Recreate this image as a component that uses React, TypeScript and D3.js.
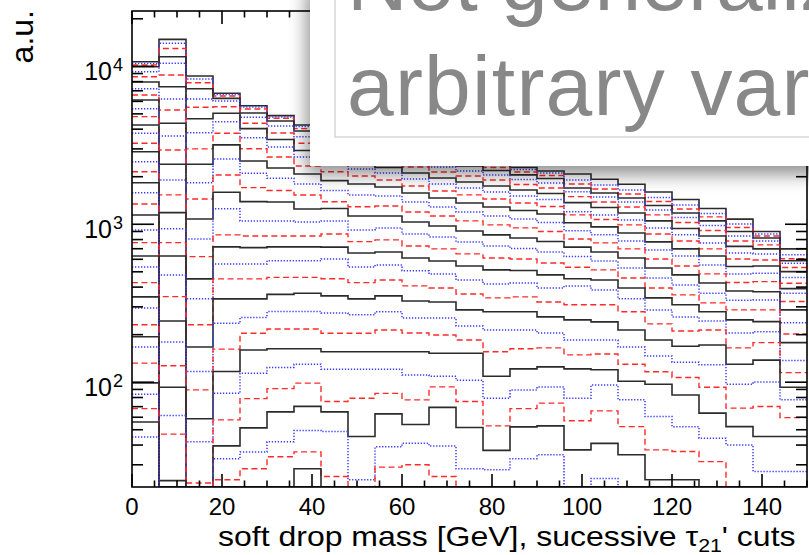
import React from 'react';
import * as d3 from 'd3';

// Soft drop mass histograms (6 GeV bins, 0-150 GeV) for successive tau21' cuts.
// Each array holds one mass bin; entry i is the count after the i-th cut level
// (loosest first). Missing entries are empty bins.
const binWidth = 6;
const massMax = 150;
const nLevels = 38;

const bin00 = [10690, 10410, 10190, 9940, 9240, 8590, 7950, 7210, 6580, 6120, 5390, 4800, 4250, 3770, 3260, 2880, 2490, 2150, 1830, 1585, 1345, 1145, 920, 765, 630, 536, 427, 347, 295, 231, 194, 167, 132, 99, 84, 68, 56, 45];
const bin06 = [14810, 13980, 12980, 11500, 10440, 8810, 7430, 6220, 5290, 4360, 3620, 2950, 2400, 1907, 1535, 1185, 937, 765, 630, 478, 348, 244, 180, 127, 93, 61.5, 46.9, 23.8];
const bin12 = [8680, 8320, 7870, 7210, 6210, 5510, 4660, 3800, 3000, 2400, 1830, 1445, 1080, 807, 624, 451, 337, 231, 167, 117, 89.4, 58.7, 42, 23];
const bin18 = [6750, 6630, 6490, 6270, 6030, 5550, 5040, 4460, 3770, 3180, 2590, 2050, 1595, 1255, 856, 719, 560, 451, 337, 236, 162, 117, 85, 57.7, 39.5, 32.7, 24.1];
const bin24 = [5630, 5530, 5370, 5060, 4755, 4360, 4030, 3530, 3005, 2516, 2100, 1705, 1390, 1050, 843, 711, 560, 451, 337, 257, 204, 160, 114, 78.7, 51.4, 36.2, 28.3];
const bin30 = [4870, 4777, 4690, 4506, 4190, 3780, 3440, 3085, 2667, 2270, 1955, 1637, 1384, 1050, 843, 719, 588, 461, 360, 280, 217, 163, 124, 91, 64.9, 42, 33.7];
const bin36 = [4250, 4156, 4030, 3895, 3585, 3255, 2932, 2667, 2340, 2081, 1798, 1533, 1250, 1034, 843, 719, 588, 461, 366, 280, 217, 163, 130, 98.6, 70.3, 49.5, 36.2, 28.3];
const bin42 = [3895, 3780, 3675, 3517, 3269, 2996, 2746, 2443, 2152, 1888, 1633, 1389, 1257, 1050, 868, 716, 603, 452, 352, 274, 204, 156, 121, 75.4, 64.9, 48.7, 25.3];
const bin48 = [3569, 3440, 3317, 3176, 2953, 2705, 2479, 2240, 2022, 1798, 1534, 1292, 1129, 920, 776, 658, 536, 427, 337, 267, 204, 156, 121, 79.2, 45.3, 24.1];
const bin54 = [3269, 3153, 3040, 2910, 2705, 2516, 2287, 2112, 1907, 1722, 1511, 1305, 1129, 948, 796, 668, 553, 444, 352, 279, 214, 156, 121, 85, 63, 39, 29];
const bin60 = [2996, 2889, 2785, 2667, 2479, 2305, 2112, 1936, 1747, 1578, 1384, 1196, 1034, 868, 729, 612, 507, 407, 327, 255, 205, 156, 111, 77.3, 54, 41, 30];
const bin66 = [2785, 2684, 2590, 2479, 2305, 2143, 1964, 1798, 1625, 1468, 1287, 1129, 976, 831, 698, 585, 485, 395, 322, 255, 199, 152.5, 109, 93.4, 69.3, 39.5, 25.3];
const bin72 = [2628, 2535, 2443, 2340, 2175, 2022, 1852, 1697, 1534, 1364, 1196, 1050, 907, 773, 649, 544, 444, 362, 287, 227, 185, 152.5, 103, 75.4, 51.7, 28.3];
const bin78 = [2443, 2374, 2287, 2191, 2053, 1907, 1747, 1601, 1446, 1287, 1129, 991, 857, 729, 612, 514, 419, 342, 279, 214, 156, 109, 79.2, 52.9, 37, 27.9];
const bin84 = [2287, 2223, 2143, 2053, 1921, 1785, 1649, 1511, 1364, 1223, 1081, 948, 819, 703, 603, 510, 425, 347, 279, 214, 163, 121.5, 89.4, 68, 52.1, 32.8];
const bin90 = [2175, 2112, 2037, 1949, 1825, 1697, 1567, 1435, 1295, 1162, 1027, 900, 778, 668, 568, 478, 395, 322, 259, 205, 165, 125, 93.4, 73.7, 52.9, 34.7];
const bin96 = [2081, 1907, 1798, 1697, 1608, 1496, 1370, 1201, 1146, 1023, 911, 806, 716, 624, 534, 452, 407, 309, 248, 185, 149, 121.5, 79.2, 57, 37.3];
const bin102 = [1927, 1774, 1672, 1578, 1489, 1384, 1277, 1146, 1072, 962, 857, 762, 668, 585, 514, 444, 384, 309, 241, 185, 151, 120, 96, 65.8, 41, 24.6];
const bin108 = [1791, 1649, 1555, 1468, 1384, 1287, 1179, 1065, 991, 880, 784, 698, 612, 529, 457, 395, 337, 279, 214, 167, 130, 101.5, 77.3, 52.3, 34.7];
const bin114 = [1601, 1478, 1394, 1315, 1232, 1146, 1050, 948, 868, 773, 688, 603, 529, 457, 395, 342, 287, 234, 185, 146.6, 116.5, 97, 60.6, 37.3, 24.1];
const bin120 = [1435, 1326, 1250, 1179, 1104, 1027, 940, 857, 784, 698, 630, 544, 478, 413, 357, 309, 259, 211, 169, 134, 107, 83, 52.3, 36.4, 24.1];
const bin126 = [1257, 1170, 1113, 1050, 983, 913, 843, 762, 698, 630, 553, 485, 425, 366, 318, 279, 244, 214, 172, 129, 93, 63.7, 44.2, 31.4];
const bin132 = [1077, 1004, 954, 900, 843, 784, 724, 658, 603, 540, 485, 428, 378, 330, 287, 248, 205, 165, 130, 97, 68.5, 52.3, 40.1];
const bin138 = [900, 868, 843, 819, 784, 740, 698, 649, 594, 544, 490, 433, 374, 332, 287, 242, 209, 178, 138, 100.4, 70.1, 45.3, 27.2];
const bin144 = [698, 640, 605, 588, 566, 532, 501, 461, 423, 391, 366, 324, 287, 238, 202, 178, 137, 115, 93, 77.3, 59.7, 45.3, 27.2];

const massBins = [bin00, bin06, bin12, bin18, bin24, bin30, bin36, bin42, bin48, bin54, bin60, bin66, bin72, bin78, bin84, bin90, bin96, bin102, bin108, bin114, bin120, bin126, bin132, bin138, bin144];

const xTickMajor = [0, 20, 40, 60, 80, 100, 120, 140];
const yDecadeLabels = [
  { value: 100, exp: '2' },
  { value: 1000, exp: '3' },
  { value: 10000, exp: '4' },
];

const W = 809;
const H = 555;
const frame = { left: 132, right: 807, top: 11, bottom: 487 };
const yMin = 21.7;
const yMax = 22400;

// cut level styling cycles: solid black, dotted blue, dashed red
const levelStyles = [
  { stroke: '#2b2b2b', dash: 'none', width: 1.6 },
  { stroke: '#3a3aff', dash: '1.3,1.7', width: 1.5 },
  { stroke: '#ff2a2a', dash: '6,3.5', width: 1.4 },
];

const axisFont = 'Liberation Sans, Arial, Helvetica, sans-serif';

export default function App() {
  const x = d3.scaleLinear().domain([0, massMax]).range([frame.left, frame.right]);
  const y = d3.scaleLog().domain([yMin, yMax]).range([frame.bottom, frame.top]);

  const line = d3.line<[number, number]>();

  const levelPaths = d3.range(nLevels).map((i) => {
    const pts: [number, number][] = [];
    massBins.forEach((bin, k) => {
      const v = bin[i] ?? 0;
      const yy = v > yMin ? y(v) : y(yMin);
      pts.push([x(k * binWidth), yy], [x((k + 1) * binWidth), yy]);
    });
    return { i, d: line(pts) as string, style: levelStyles[i % 3] };
  });

  const xMinor = d3.range(0, massMax + 0.1, 5);
  const yMinor: number[] = [];
  for (let e = 1; e <= 4; e++) {
    for (let m = 1; m <= 9; m++) {
      const v = m * Math.pow(10, e);
      if (v >= yMin && v <= yMax) yMinor.push(v);
    }
  }

  return (
    <svg width={W} height={H} style={{ position: 'absolute', left: 0, top: 0, background: '#fff' }}>
      <defs>
        <clipPath id="plotClip">
          <rect x={frame.left} y={frame.top} width={frame.right - frame.left} height={frame.bottom - frame.top} />
        </clipPath>
        <filter id="boxShadow" x="-20%" y="-20%" width="140%" height="160%">
          <feDropShadow dx="-3" dy="8" stdDeviation="9" floodColor="#000" floodOpacity="0.45" />
        </filter>
      </defs>
      <rect x={0} y={0} width={W} height={H} fill="#fff" />

      <g clipPath="url(#plotClip)" fill="none">
        {levelPaths.map((p) => (
          <path
            key={p.i}
            d={p.d}
            stroke={p.style.stroke}
            strokeWidth={p.style.width}
            strokeDasharray={p.style.dash}
            fill="none"
          />
        ))}
      </g>

      {/* frame and ticks */}
      <g stroke="#000" strokeWidth={1.6} fill="none">
        <rect x={frame.left} y={frame.top} width={frame.right - frame.left} height={frame.bottom - frame.top} />
        {xMinor.map((t) => {
          const major = t % 20 === 0;
          const len = major ? 13 : 6.5;
          return (
            <g key={'xt' + t}>
              <line x1={x(t)} x2={x(t)} y1={frame.bottom} y2={frame.bottom - len} />
              <line x1={x(t)} x2={x(t)} y1={frame.top} y2={frame.top + len} />
            </g>
          );
        })}
        {yMinor.map((v) => {
          const major = Math.abs(Math.log10(v) - Math.round(Math.log10(v))) < 1e-9;
          const len = major ? 22 : 11;
          return (
            <g key={'yt' + v}>
              <line x1={frame.left} x2={frame.left + len} y1={y(v)} y2={y(v)} />
              <line x1={frame.right} x2={frame.right - len} y1={y(v)} y2={y(v)} />
            </g>
          );
        })}
      </g>

      {/* tick labels and titles */}
      <g fontFamily={axisFont} fill="#000">
        {xTickMajor.map((t) => (
          <text key={'xl' + t} x={x(t)} y={515} fontSize={24} textAnchor="middle">
            {t}
          </text>
        ))}
        {yDecadeLabels.map((d) => (
          <g key={'yl' + d.value}>
            <text x={112} y={y(d.value) + 13.5} fontSize={25} textAnchor="end">
              10
            </text>
            <text x={113} y={y(d.value) + 5} fontSize={18} textAnchor="start">
              {d.exp}
            </text>
          </g>
        ))}
        <text transform="translate(218,546) scale(1.185,1)" fontSize={27} textAnchor="start">
          soft drop mass [GeV], sucessive τ
          <tspan fontSize={18} dy={6}>21</tspan>
          <tspan dy={-6}>' cuts</tspan>
        </text>
        <text transform="translate(33,10) rotate(-90)" fontSize={32} textAnchor="end">
          a.u.
        </text>
      </g>

      {/* slide text box laid over the plot */}
      <g>
        <rect x={310} y={-20} width={540} height={186} fill="#fff" filter="url(#boxShadow)" />
        <rect x={335} y={-20} width={520} height={157} fill="none" stroke="#d6d6d6" strokeWidth={1.5} />
        <g fontFamily={axisFont} fill="#888" fontSize={84}>
          <text x={347} y={10}>Not generalizable</text>
          <text x={347} y={115} letterSpacing={1.2}>arbitrary variables</text>
        </g>
      </g>
    </svg>
  );
}
